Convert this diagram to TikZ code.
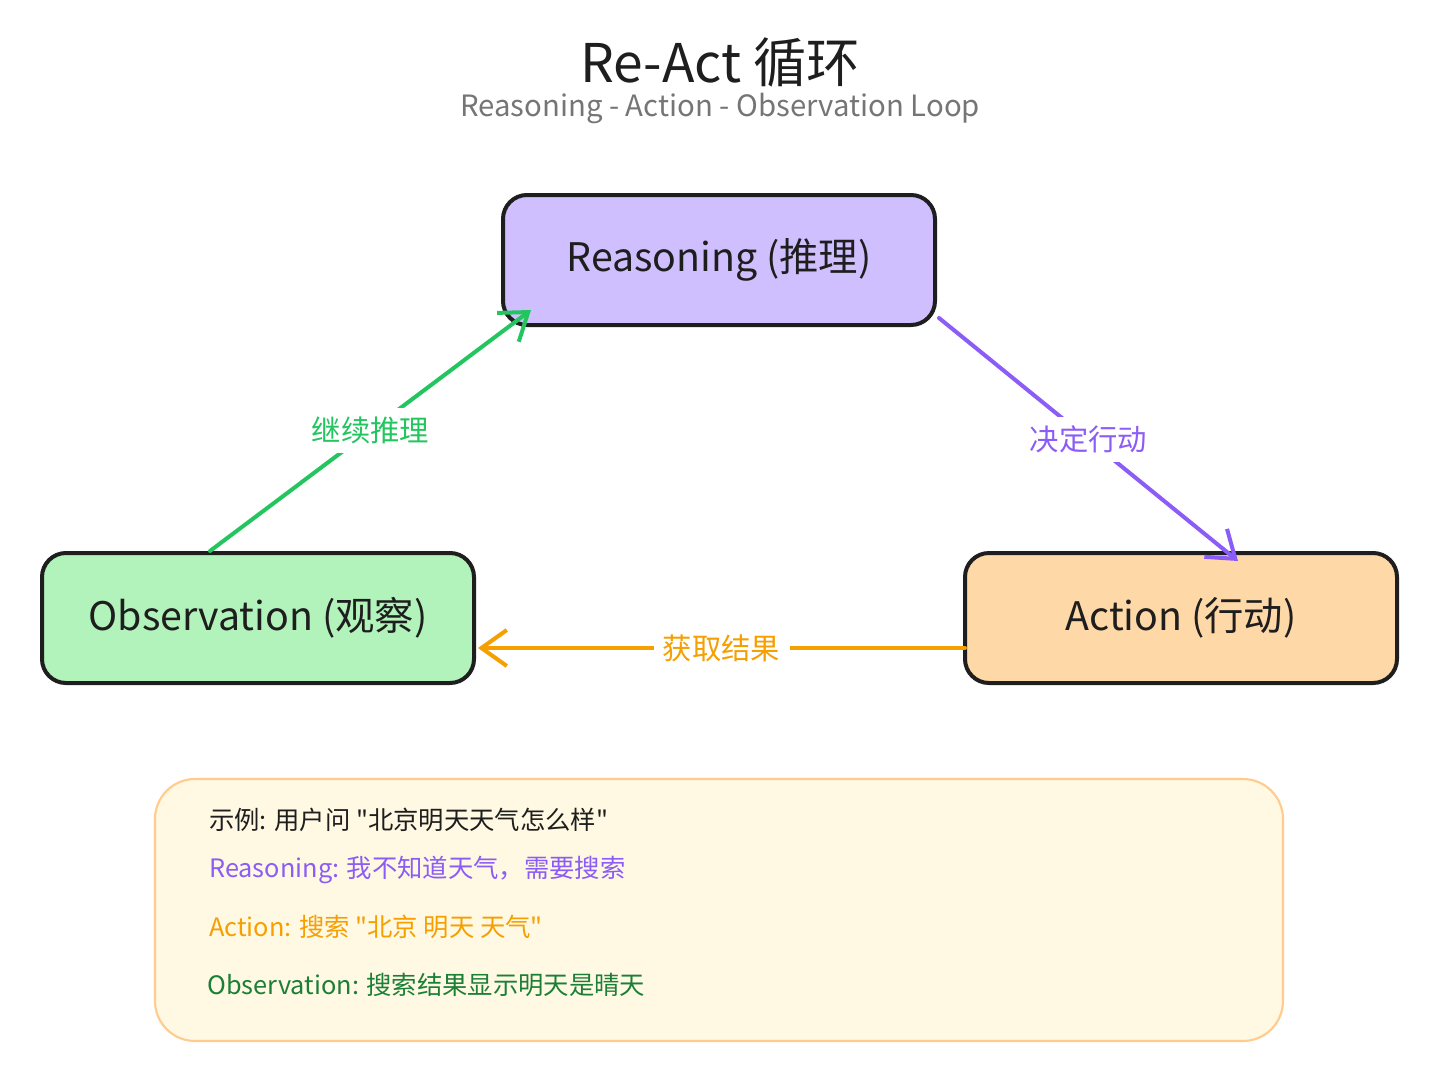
\documentclass[tikz,border=0pt]{standalone}
\usepackage{fontspec}
\setmainfont{Noto Sans CJK SC}
\newfontfamily\quotefont{Noto Sans CJK SC}
\usetikzlibrary{arrows.meta}
\usepackage{xcolor}
\definecolor{inkblack}{HTML}{1E1E1E}
\definecolor{subgray}{HTML}{757575}
\definecolor{rsnfill}{HTML}{D0BFFF}
\definecolor{obsfill}{HTML}{B2F2BB}
\definecolor{actfill}{HTML}{FFD8A8}
\definecolor{rsnline}{HTML}{8B5CF6}
\definecolor{obsline}{HTML}{22C55E}
\definecolor{actline}{HTML}{F59F00}
\definecolor{obsdark}{HTML}{1B7F37}
\definecolor{notefill}{HTML}{FFF8E2}
\colorlet{noteline}{actfill!85!orange}
\newcommand\sq{{\quotefont\symbol{34}}}
\tikzset{
  stepbox/.style={draw=inkblack, line width=3pt, rounded corners=18pt,
    minimum width=324pt, minimum height=97.5pt, text=inkblack,
    font=\fontsize{29.5}{34}\selectfont},
  notebox/.style={draw=noteline, fill=notefill, line width=1.6pt, rounded corners=30pt,
    minimum width=846pt, minimum height=196.5pt},
  flowarrow/.style={line width=3pt, line cap=round,
    -{Straight Barb[length=19pt, width=27pt, line width=3pt]}},
  edgelabel/.style={fill=white, inner sep=7pt, font=\fontsize{22}{26}\selectfont},
  notetext/.style={anchor=west, inner sep=0pt, font=\fontsize{19}{23}\selectfont},
}

\begin{document}
\begin{tikzpicture}[x=0.75pt,y=-0.75pt]
\useasboundingbox (0,0) rectangle (1440,1082);
% heading
\node[text=inkblack, font=\fontsize{40}{48}\selectfont] (title) at (720,62) {Re-Act 循环};
\node[text=subgray, font=\fontsize{22}{26}\selectfont] (subtitle) at (720,108) {Reasoning - Action - Observation Loop};
% the three steps
\node[stepbox, fill=rsnfill] (reason) at (719,260) {Reasoning (推理)};
\node[stepbox, fill=obsfill] (obs) at (258,618) {Observation (观察)};
\node[stepbox, fill=actfill] (act) at (1181,618) {Action (行动)};
% loop arrows
\draw[flowarrow, obsline] ([shift={(-48,0)}]obs.north) -- node[edgelabel, text=obsline] {继续推理} ([shift={(30,-17)}]reason.south west);
\draw[flowarrow, rsnline] ([shift={(2,-9)}]reason.south east) -- node[edgelabel, text=rsnline] {决定行动} ([shift={(275,10)}]act.north west);
\draw[flowarrow, actline] ([shift={(2,30)}]act.west) -- node[edgelabel, text=actline] {获取结果} ([shift={(2,30)}]obs.east);
% example
\node[notebox] (note) at (719,910) {};
\node[notetext, text=inkblack] (ex0) at (209,820) {示例: 用户问 \sq 北京明天天气怎么样\sq};
\node[notetext, text=rsnline] (ex1) at (209,870) {Reasoning: 我不知道天气，需要搜索};
\node[notetext, text=actline] (ex2) at (209,927) {Action: 搜索 \sq 北京 明天 天气\sq};
\node[notetext, text=obsdark] (ex3) at (207,985) {Observation: 搜索结果显示明天是晴天};
\end{tikzpicture}
\end{document}
